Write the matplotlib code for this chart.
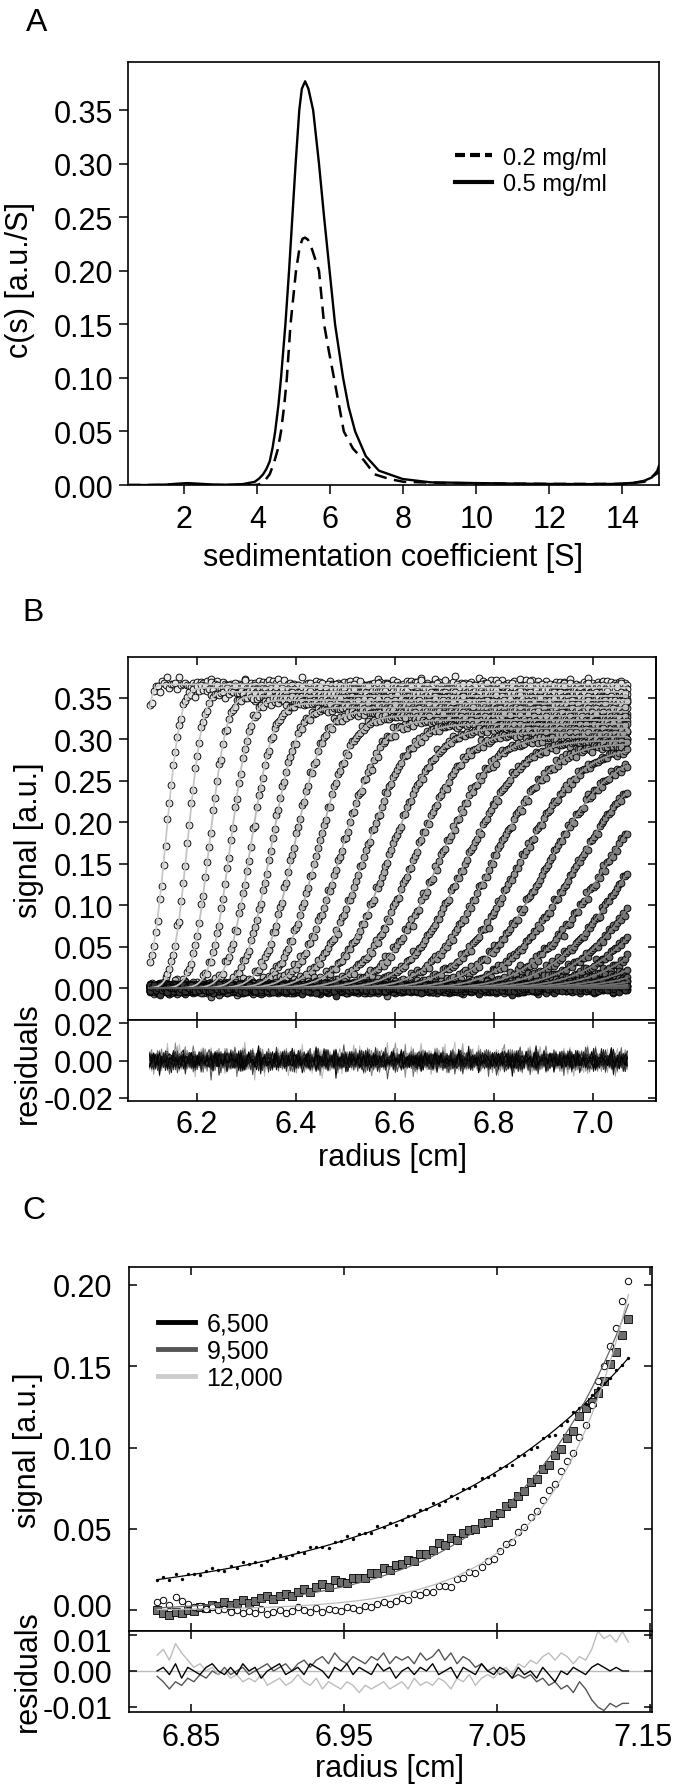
import math
import numpy as np
import matplotlib
matplotlib.use("Agg")
import matplotlib.pyplot as plt
from matplotlib.lines import Line2D
from matplotlib.ticker import FormatStrFormatter

plt.rcParams["font.family"] = ["Liberation Sans", "DejaVu Sans"]
plt.rcParams["axes.unicode_minus"] = False

# ── panel A: c(s) distributions ────────────────────────────────────────────────
S_SOLID = [0.46, 1.0, 1.5, 1.8, 2.1, 2.4, 2.8, 3.2, 3.6, 3.93, 4.05, 4.16, 4.25,
           4.34, 4.42, 4.49, 4.58, 4.65, 4.71, 4.77, 4.87, 4.96, 5.05, 5.15,
           5.22, 5.31, 5.40, 5.53, 5.69, 5.83, 5.98, 6.13, 6.35, 6.50, 6.68,
           6.97, 7.33, 7.98, 8.74, 10.0, 11.0, 12.0, 13.0, 13.8, 14.3, 14.6,
           14.8, 14.95, 15.0]
C_SOLID = [0.0, 0.0, 0.0004, 0.0012, 0.0018, 0.0012, 0.0004, 0.0003, 0.0008,
           0.003, 0.006, 0.010, 0.015, 0.022, 0.035, 0.050, 0.075, 0.100,
           0.125, 0.150, 0.200, 0.250, 0.300, 0.350, 0.370, 0.377, 0.370,
           0.350, 0.300, 0.250, 0.200, 0.150, 0.100, 0.073, 0.050, 0.027,
           0.0134, 0.0056, 0.0025, 0.0018, 0.0013, 0.001, 0.0008, 0.001, 0.002,
           0.004, 0.007, 0.013, 0.018]
S_DASH = [0.46, 3.9, 4.05, 4.18, 4.34, 4.45, 4.56, 4.65, 4.74, 4.81, 4.91, 5.06,
          5.16, 5.24, 5.31, 5.39, 5.50, 5.69, 5.83, 5.96, 6.10, 6.37, 6.62,
          6.92, 7.21, 7.62, 8.0, 9.0, 10.0, 12.0, 14.0, 14.6, 15.0]
C_DASH = [0.0, 0.0, 0.0005, 0.003, 0.010, 0.020, 0.033, 0.050, 0.075, 0.100,
          0.150, 0.200, 0.222, 0.230, 0.231, 0.229, 0.220, 0.200, 0.150, 0.125,
          0.100, 0.050, 0.034, 0.023, 0.010, 0.0056, 0.003, 0.002, 0.0015,
          0.001, 0.001, 0.003, 0.012]
LEGEND_A = ["0.2 mg/ml", "0.5 mg/ml"]

# ── panel B: velocity scans (boundary midpoint, spread, plateau per scan) ──────
B_MID = [6.085, 6.138, 6.182, 6.226, 6.268, 6.309, 6.350, 6.395, 6.443, 6.490,
         6.538, 6.587, 6.637, 6.688, 6.740, 6.793, 6.847, 6.902, 6.958, 7.015,
         7.065, 7.115, 7.165, 7.215, 7.265, 7.315, 7.365, 7.415, 7.465, 7.515,
         7.565, 7.615, 7.665]
B_WIDTH = [0.020, 0.033, 0.034, 0.039, 0.043, 0.051, 0.059, 0.067, 0.078, 0.090,
           0.100, 0.108, 0.115, 0.122, 0.129, 0.135, 0.141, 0.147, 0.153, 0.160,
           0.168, 0.176, 0.184, 0.193, 0.202, 0.211, 0.220, 0.229, 0.238, 0.247,
           0.256, 0.265, 0.274]
B_PLATEAU = [0.366, 0.362, 0.357, 0.352, 0.347, 0.343, 0.338, 0.333, 0.328,
             0.323, 0.318, 0.313, 0.308, 0.303, 0.298, 0.294, 0.289, 0.284,
             0.279, 0.275, 0.270, 0.266, 0.262, 0.257, 0.253, 0.249, 0.245,
             0.241, 0.237, 0.233, 0.230, 0.226, 0.222]
# residual traces (units of 1e-3), combined per scan
NOISE_B = [2, -3, 1, 4, -1, -5, 3, 0, -2, 5, -4, 1, 2, -1, -3, 6, -2, 0, 3, -4,
           1, -2, 4, -1, 0, -5, 2, 3, -3, 1, -1, 4, -2, -4, 5, 0, -1, 2, -3, 3,
           -6, 1, 0, 4, -2, 2, -1, -3, 5, -4, 1, 3, -2, 0, -1, 4, -3, 2, -5, 1,
           3, -1, 0, -4, 2, 8, -2, -1, 3, -3, 0, 2, -4, 4, -1, 1, -2, 6, -3, 0,
           2, -1, -4, 3, 1, -2, 4, -9, 0]
NOISE_B2 = [3, -1, -4, 2, 0, 5, -2, -3, 1, 4, -5, 0, 2, -2, 3, -1, 1, -4, 6, -3,
            0, 2, -1, 4, -2, -5, 3, 1, -3, 0, 4, -2, 2, -6, 1, 3, -1, -2, 5, 0,
            -4, 2, -1, 3, -3, 1, 0, -2, 4, -1, 2, -5, 1]
AMP_B = [1.3, 1.2, 1.1, 1.0, 0.9, 1.1, 0.8, 1.0, 0.9, 1.2, 0.8, 1.0, 0.9, 1.1,
         0.8, 1.0, 0.9, 1.0, 0.8, 1.1, 0.9, 1.0, 0.8, 0.9, 1.0, 0.8, 0.9, 1.0,
         0.8, 0.9, 0.8, 1.0, 0.9]

# ── panel C: equilibrium profiles at three speeds ─────────────────────────────
C_LABELS = ["6,500", "9,500", "12,000"]
C_AMP = [0.155, 0.190, 0.194]      # fitted signal at the cell base
C_CURV = [0.49, 0.93, 1.40]        # exponent per cm^2
C_BASE = [0.0, -0.002, 0.0]
C_RBASE = 7.136
RES_6500 = [0, 1, -1, 2, -2, 1, 0, -1, 1, 2, 0, -1, 1, -1, 2, 0, 1, -2, 0, 1,
            2, -1, 0, 1, -1, 2, 1, 0, -2, 1, 0, 2, -1, 1, 0, -1, 2, 0, 1, -2,
            0, 1, -1, 1, 0, 2, -1, 0, 1, -2, 1, 0, -1, 2, 0, -1, 1, 0, -2, 1,
            -1, 0, -2, 1, -1, -3, 0, -1, 1, 0, -1, 1, 2, 1, 0, 1, 0, 0]
RES_9500 = [-1.5, -3, -5, -3, -4, -2, -3, -1, -2, 0, -1, 1, -1, 0, 1, -1, 0, 1,
            2, 0, 1, 2, 0, 2, 3, 1, 3, 4, 2, 5, 3, 2, 4, 3, 2, 4, 3, 5, 2, 4,
            3, 4, 2, 5, 3, 4, 6, 3, 5, 2, 4, 3, 1, 2, 0, 1, -1, 0, -2, -1, -2,
            -1, -3, -2, -4, -3, -5, -4, -6, -3, -5, -8, -10, -11, -9, -10, -9,
            -9]
RES_12000 = [4.4, 6, 3, 7.6, 5, 3, 1, 2, 0, 1, -1, 0, -2, -1, -3, -2, -3, -1,
             -4, -3, -2, -4, -3, -1, -3, -4, -2, -5, -3, -4, -5, -3, -4, -6, -4,
             -5, -4, -3, -5, -4, -3, -5, -2, -4, -3, -4, -2, -3, -5, -2, -3, -1,
             -4, -2, -1, -2, 0, 1, -1, 2, 1, 3, 2, 4, 5, 3, 5, 4, 2, 4, 3, 6,
             11, 9, 10, 8, 11, 8]

FS = 22
W, H = 675, 1790
fig = plt.figure(figsize=(W / 100, H / 100), dpi=100)


def frame(left, top, right, bottom):
    return fig.add_axes([left / W, 1 - bottom / H, (right - left) / W, (bottom - top) / H])


def finish(ax):
    for sp in ax.spines.values():
        sp.set_linewidth(1.2)


axA = frame(128, 63, 659, 486)
axB = frame(128, 658, 656, 1021)
axBr = frame(128, 1021, 656, 1102)
axC = frame(129, 1268, 652, 1632)
axCr = frame(129, 1632, 652, 1713)

# ── A ─────────────────────────────────────────────────────────────────────────
axA.plot(S_DASH, C_DASH, color="black", lw=1.8, dashes=(5, 3))
axA.plot(S_SOLID, C_SOLID, color="black", lw=1.7)
axA.set_xlim(0.46, 15)
axA.set_ylim(0, 0.395)
axA.set_xticks(range(2, 15, 2))
axA.set_yticks(np.arange(0, 0.36, 0.05))
axA.yaxis.set_major_formatter(FormatStrFormatter("%.2f"))
axA.tick_params(direction="out", length=6.5, width=1.1, labelsize=FS)
axA.tick_params(axis="x", pad=7)
axA.tick_params(axis="y", pad=4)
handles = [Line2D([0], [0], color="black", lw=3, dashes=(2.4, 1.2)),
           Line2D([0], [0], color="black", lw=3)]
axA.legend(handles, LEGEND_A, loc="upper left", bbox_to_anchor=(0.615, 0.80),
           frameon=False, fontsize=17, handlelength=1.6, handletextpad=0.45,
           labelspacing=0.2, borderpad=0, borderaxespad=0)
finish(axA)

# ── B ─────────────────────────────────────────────────────────────────────────
erf = np.vectorize(math.erf)
R_B = np.arange(6.105, 7.0705, 0.004)
nb1 = np.array(NOISE_B, dtype=float)
nb2 = np.array(NOISE_B2, dtype=float)
pos = np.arange(len(R_B))
n = len(B_MID)
fits, resids = [], []
for k in range(n):
    fit = B_PLATEAU[k] / 2 * (1 + erf((R_B - B_MID[k]) / B_WIDTH[k]))
    res = (0.75 * nb1[(pos + 17 * k) % len(nb1)]
           + 0.55 * nb2[(2 * pos + 5 * k) % len(nb2)]) * AMP_B[k] * 1e-3
    fits.append(fit)
    resids.append(res)
    face = str(0.92 - 0.72 * k / (n - 1))
    axB.scatter(R_B, fit + res, s=24, facecolor=face, edgecolor="black",
                linewidths=0.65, zorder=2)
for k in range(n):
    axB.plot(R_B, fits[k], color=str(0.80 - 0.45 * k / (n - 1)), lw=1.3, zorder=3)
    axBr.plot(R_B, resids[k], color=str(0.75 - 0.75 * k / (n - 1)), lw=0.7)

for ax in (axB, axBr):
    ax.set_xlim(6.0613, 7.127)
    ax.set_xticks(np.arange(6.2, 7.01, 0.2))
    ax.tick_params(axis="x", direction="in", top=True, bottom=True, length=6,
                   width=1.1, labelsize=FS, pad=6)
    ax.tick_params(axis="y", direction="out", length=6.5, width=1.1,
                   labelsize=FS, pad=4)
    finish(ax)
axB.set_ylim(-0.0385, 0.399)
axB.set_yticks(np.arange(0, 0.36, 0.05))
axB.yaxis.set_major_formatter(FormatStrFormatter("%.2f"))
axB.tick_params(axis="x", labelbottom=False)
axBr.set_ylim(-0.0216, 0.0216)
axBr.set_yticks([-0.02, 0.0, 0.02])
axBr.yaxis.set_major_formatter(FormatStrFormatter("%.2f"))
axBr.xaxis.set_major_formatter(FormatStrFormatter("%.1f"))
for ax in (axB, axBr):
    sec = ax.secondary_yaxis("right")
    sec.set_yticks(ax.get_yticks())
    sec.tick_params(direction="in", length=6, width=1.1, labelright=False)
    sec.spines["right"].set_linewidth(1.2)

# ── C ─────────────────────────────────────────────────────────────────────────
c_res = [RES_6500, RES_9500, RES_12000]
line_col = ["black", "#666666", "#bbbbbb"]
res_col = ["black", "#555555", "#bdbdbd"]
axCr.axhline(0, color="#bbbbbb", lw=1.0, zorder=1)
profiles = []
for i in range(3):
    r = np.linspace(6.828, C_RBASE, len(c_res[i]))
    fit = C_BASE[i] + C_AMP[i] * np.exp(C_CURV[i] * (r ** 2 - C_RBASE ** 2))
    res = np.array(c_res[i]) * 1e-3
    profiles.append((r, fit, res))
    axCr.plot(r, res, color=res_col[i], lw=1.0, zorder=2 + (i == 0))

r, fit, res = profiles[1]
axC.plot(r, fit + res, ls="none", marker="s", ms=5.2, mfc="#6e6e6e", mec="black",
         mew=0.6, zorder=2)
r, fit, res = profiles[2]
axC.plot(r, fit + res, ls="none", marker="o", ms=4.6, mfc="white", mec="black",
         mew=0.7, zorder=3)
r, fit, res = profiles[0]
axC.plot(r, fit + res, ls="none", marker="o", ms=2.4, mfc="black", mec="black",
         mew=0, zorder=4)
for i in range(3):
    r, fit, res = profiles[i]
    axC.plot(r, fit, color=line_col[i], lw=0.9, zorder=5)

for ax in (axC, axCr):
    ax.set_xlim(6.8096, 7.1514)
    ax.set_xticks([6.85, 6.95, 7.05, 7.15])
    ax.tick_params(direction="in", top=True, right=True, length=6, width=1.1,
                   labelsize=FS)
    ax.tick_params(axis="x", pad=7)
    ax.tick_params(axis="y", pad=12)
    finish(ax)
axC.set_ylim(-0.0127, 0.2109)
axC.set_yticks([0.0, 0.05, 0.10, 0.15, 0.20])
axC.set_yticklabels(["", "0.05", "0.10", "0.15", "0.20"])
axC.tick_params(axis="x", labelbottom=False)
axCr.set_ylim(-0.0114, 0.0111)
axCr.set_yticks([-0.01, 0.0, 0.01])
axCr.set_yticklabels(["-0.01", "0.00", ""])
axCr.set_xticklabels(["6.85", "6.95", "7.05", ""])
handles = [Line2D([0], [0], color=c, lw=3.5) for c in ["black", "#555555", "#cccccc"]]
axC.legend(handles, C_LABELS, loc="upper left", bbox_to_anchor=(0.055, 0.878),
           frameon=False, fontsize=18, handlelength=1.5, handletextpad=0.45,
           labelspacing=0.12, borderpad=0, borderaxespad=0)

# ── labels ────────────────────────────────────────────────────────────────────
def ftext(x, y, s, **kw):
    fig.text(x / W, 1 - y / H, s, fontsize=kw.pop("fontsize", FS), **kw)


# the two stacked tick labels at the C panel join, nudged apart slightly
lab_x = 129 - 12 * 100 / 72
ftext(lab_x, 1606, "0.00", ha="right", va="center_baseline")
ftext(lab_x, 1641, "0.01", ha="right", va="center_baseline")
ftext(643, 1713 + 7 * 100 / 72, "7.15", ha="center", va="top")
ftext(26, 8, "A", ha="left", va="top", fontsize=23)
ftext(22, 598, "B", ha="left", va="top", fontsize=23)
ftext(22, 1196, "C", ha="left", va="top", fontsize=23)
ftext(20, 280, "c(s) [a.u./S]", rotation=90, ha="center", va="center")
ftext(393, 558, "sedimentation coefficient [S]", ha="center", va="center")
ftext(29, 840, "signal [a.u.]", rotation=90, ha="center", va="center")
ftext(28, 1063, "residuals", rotation=90, ha="center", va="center")
ftext(392, 1158, "radius [cm]", ha="center", va="center")
ftext(28, 1450, "signal [a.u.]", rotation=90, ha="center", va="center")
ftext(28, 1671, "residuals", rotation=90, ha="center", va="center")
ftext(390, 1769, "radius [cm]", ha="center", va="center")

fig.savefig("out.png", dpi=100)
